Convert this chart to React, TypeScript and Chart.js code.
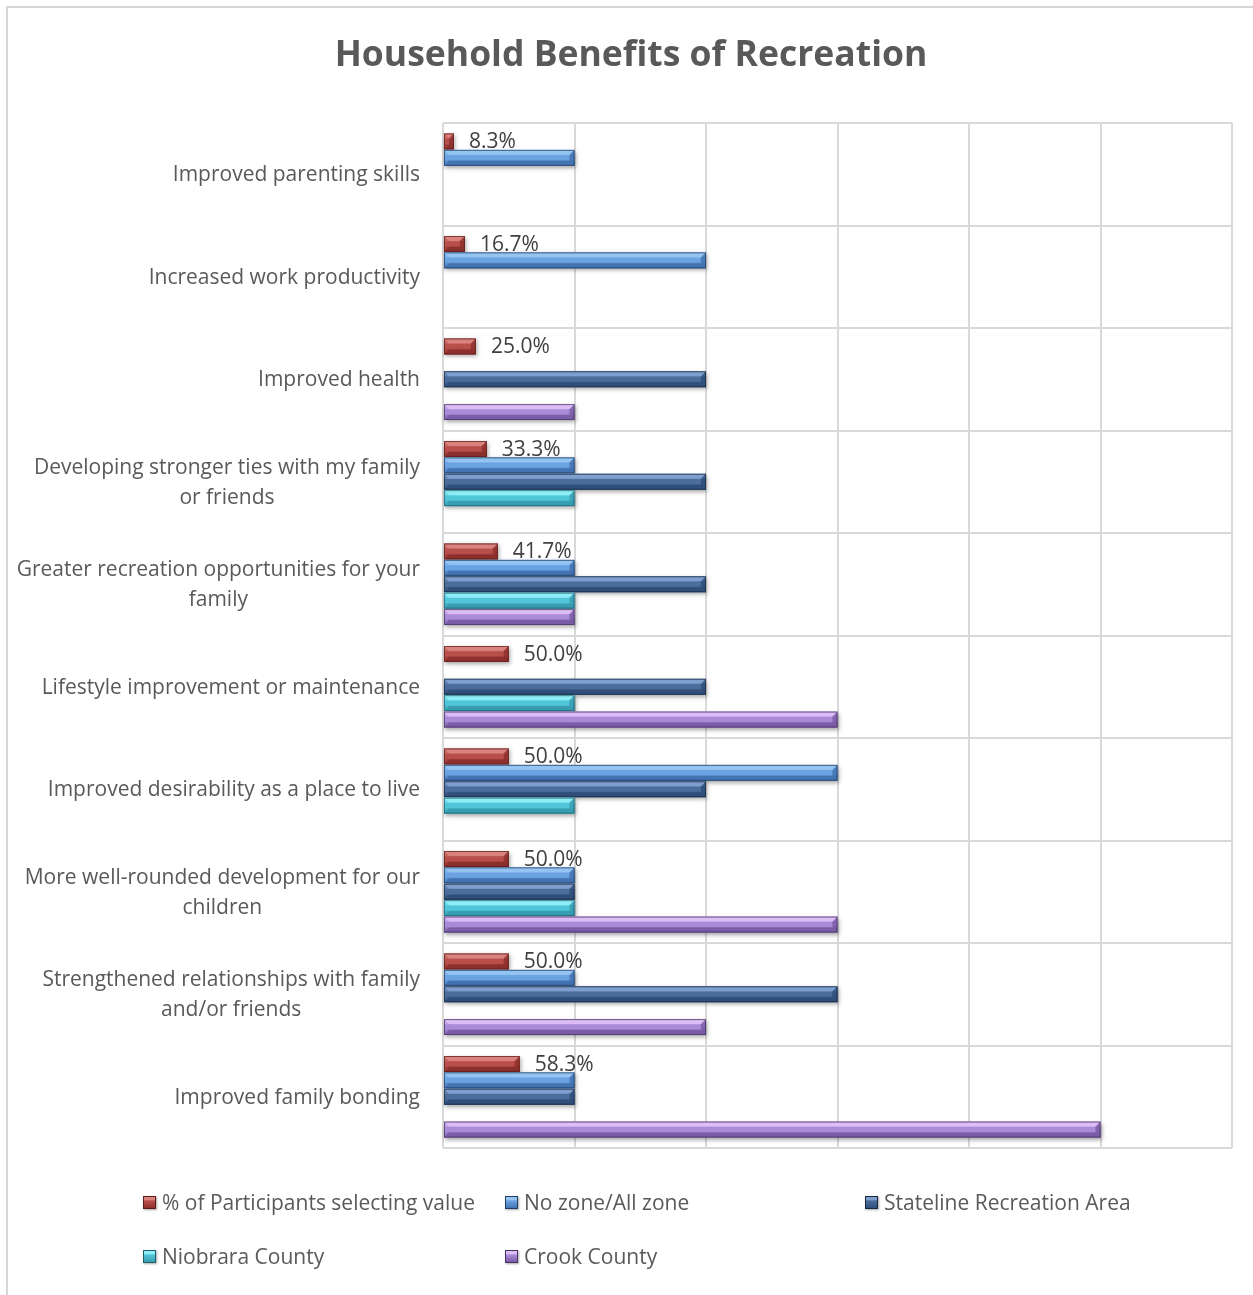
import React, { useEffect, useRef } from "react";
import { Chart, registerables } from "chart.js";

Chart.register(...registerables);

const chartTitle = "Household Benefits of Recreation";
const categories: string[][] = [
  ["Improved parenting skills"],
  ["Increased work productivity"],
  ["Improved health"],
  ["Developing stronger ties with my family", "or friends"],
  ["Greater recreation opportunities for your", "family"],
  ["Lifestyle improvement or maintenance"],
  ["Improved desirability as a place to live"],
  ["More well-rounded development for our", "children"],
  ["Strengthened relationships with family", "and/or friends"],
  ["Improved family bonding"],
];
const seriesNames = [
  "% of Participants selecting value",
  "No zone/All zone",
  "Stateline Recreation Area",
  "Niobrara County",
  "Crook County",
];
const pctSelecting = [0.083, 0.167, 0.25, 0.333, 0.417, 0.5, 0.5, 0.5, 0.5, 0.583];
const noZone = [1, 2, null, 1, 1, null, 3, 1, 1, 1];
const stateline = [null, null, 2, 2, 2, 2, 2, 1, 3, 1];
const niobrara = [null, null, null, 1, 1, 1, 1, 1, null, null];
const crook = [null, null, 1, null, 1, 3, null, 3, 2, 5];
const xMin = 0;
const xMax = 6;

type Pal = { light: string; mid: string; dark: string; edge: string };
const palettes: Pal[] = [
  { light: "#d9827e", mid: "#b94f4b", dark: "#8d302d", edge: "#5e1c1a" },
  { light: "#93c4f2", mid: "#6aa2e2", dark: "#4373b2", edge: "#213c62" },
  { light: "#7e9ecd", mid: "#4b6d9c", dark: "#2f4f7a", edge: "#17283f" },
  { light: "#8eeef8", mid: "#52c6d9", dark: "#379db1", edge: "#1d5f6c" },
  { light: "#dcbdf6", mid: "#a98bd8", dark: "#7b5ca7", edge: "#45325f" },
];

const FONT = '"Open Sans", "DejaVu Sans", sans-serif';
const TEXT_COLOR = "#595959";
// canvas placed at page (8,8), inside a 2px frame starting at page (6,6)
const CW = 1245;
const CH = 1287;

function drawBar(ctx: CanvasRenderingContext2D, x0: number, x1: number, yc: number, h: number, p: Pal) {
  const top = yc - h / 2;
  const bot = yc + h / 2;
  const w = x1 - x0;
  if (w <= 0) return;
  const b = Math.min(h * 0.32, w / 2);
  ctx.save();
  ctx.shadowColor = "rgba(0,0,0,0.35)";
  ctx.shadowBlur = 4;
  ctx.shadowOffsetX = 1;
  ctx.shadowOffsetY = 2;
  ctx.fillStyle = p.dark;
  ctx.fillRect(x0, top, w, h);
  ctx.restore();
  const g = ctx.createLinearGradient(0, top, 0, bot);
  g.addColorStop(0, p.light);
  g.addColorStop(0.28, p.light);
  g.addColorStop(0.36, p.mid);
  g.addColorStop(0.62, p.mid);
  g.addColorStop(0.72, p.dark);
  g.addColorStop(1, p.dark);
  ctx.fillStyle = g;
  ctx.fillRect(x0, top, w, h);
  ctx.fillStyle = p.dark;
  ctx.globalAlpha = 0.85;
  ctx.beginPath();
  ctx.moveTo(x1, top);
  ctx.lineTo(x1, bot);
  ctx.lineTo(x1 - b, bot - b);
  ctx.lineTo(x1 - b, top + b);
  ctx.closePath();
  ctx.fill();
  ctx.globalAlpha = 0.5;
  ctx.fillStyle = p.mid;
  ctx.beginPath();
  ctx.moveTo(x0, top);
  ctx.lineTo(x0, bot);
  ctx.lineTo(x0 + b, bot - b);
  ctx.lineTo(x0 + b, top + b);
  ctx.closePath();
  ctx.fill();
  ctx.globalAlpha = 0.7;
  ctx.strokeStyle = p.edge;
  ctx.lineWidth = 1;
  ctx.strokeRect(x0 + 0.5, top + 0.5, w - 1, h - 1);
  ctx.globalAlpha = 1;
}

const customDraw = {
  id: "customDraw",
  afterDatasetsDraw(chart: any) {
    const ctx: CanvasRenderingContext2D = chart.ctx;
    ctx.save();
    chart.data.datasets.forEach((ds: any, di: number) => {
      const meta = chart.getDatasetMeta(di);
      meta.data.forEach((el: any, i: number) => {
        const v = ds.data[i];
        if (v === null || v === undefined) return;
        const { x, y, base, height } = el.getProps(["x", "y", "base", "height"], true);
        drawBar(ctx, Math.min(x, base), Math.max(x, base), y, height, palettes[di]);
      });
      if (di === 0) {
        ctx.fillStyle = "#404040";
        ctx.font = `21px ${FONT}`;
        ctx.textAlign = "left";
        ctx.textBaseline = "middle";
        meta.data.forEach((el: any, i: number) => {
          const v = ds.data[i];
          if (v === null || v === undefined) return;
          const { x, y } = el.getProps(["x", "y"], true);
          ctx.fillText((v * 100).toFixed(1) + "%", x + 15, y + 1);
        });
      }
    });
    ctx.restore();
  },
  afterDraw(chart: any) {
    const ctx: CanvasRenderingContext2D = chart.ctx;
    const yScale = chart.scales.y;
    const area = chart.chartArea;
    ctx.save();
    ctx.fillStyle = TEXT_COLOR;
    ctx.font = `bold 35.5px ${FONT}`;
    ctx.textAlign = "center";
    ctx.textBaseline = "middle";
    ctx.fillText(chartTitle, 631 - 8, 48);
    ctx.font = `21px ${FONT}`;
    const right = area.left - 23;
    categories.forEach((lines, i) => {
      const yc = yScale.getPixelForTick(i) + 1;
      const wMax = Math.max(...lines.map((l) => ctx.measureText(l).width));
      const cx = right - wMax / 2;
      const lh = 30;
      const y0 = yc - ((lines.length - 1) * lh) / 2;
      lines.forEach((l, k) => ctx.fillText(l, cx, y0 + k * lh));
    });
    ctx.restore();
  },
};

function LegendMarker({ p }: { p: Pal }) {
  return (
    <span
      style={{
        display: "inline-block",
        width: 11,
        height: 11,
        border: `1px solid ${p.edge}`,
        background: `linear-gradient(180deg, ${p.light} 0%, ${p.light} 25%, ${p.mid} 35%, ${p.dark} 100%)`,
        boxShadow: "1px 1px 2px rgba(0,0,0,0.35)",
        marginRight: 6,
      }}
    />
  );
}

const legendPos = [
  { left: 135, top: 1194 },
  { left: 497, top: 1194 },
  { left: 857, top: 1194 },
  { left: 135, top: 1248 },
  { left: 497, top: 1248 },
];

export default function App() {
  const ref = useRef<HTMLCanvasElement | null>(null);
  useEffect(() => {
    if (!ref.current) return;
    const seriesData = [pctSelecting, noZone, stateline, niobrara, crook];
    const chart = new Chart(ref.current, {
      type: "bar",
      data: {
        labels: categories.map((c) => c.join(" ")),
        datasets: seriesNames.map((name, i) => ({
          label: name,
          data: seriesData[i] as any,
          backgroundColor: "rgba(0,0,0,0)",
          borderWidth: 0,
          categoryPercentage: 0.8,
          barPercentage: 0.97,
        })),
      },
      options: {
        indexAxis: "y",
        responsive: false,
        animation: false,
        layout: { padding: { left: 435, right: 21, top: 115, bottom: 147 } },
        plugins: {
          legend: { display: false },
          title: { display: false },
          tooltip: { enabled: false },
        },
        scales: {
          x: {
            min: xMin,
            max: xMax,
            ticks: { display: false, stepSize: 1 },
            grid: { color: "#d9d9d9", lineWidth: 2, drawTicks: false },
            border: { display: false },
            afterFit: (s: any) => {
              s.height = 0;
            },
          },
          y: {
            ticks: { display: false },
            grid: { color: "#d9d9d9", lineWidth: 2, drawTicks: false, offset: true },
            border: { display: false },
            afterFit: (s: any) => {
              s.width = 0;
            },
          },
        },
      },
      plugins: [customDraw],
    });
    return () => chart.destroy();
  }, []);

  return (
    <div
      style={{
        position: "fixed",
        left: 6,
        top: 6,
        width: CW,
        height: CH,
        borderTop: "2px solid #d6d6d6",
        borderLeft: "2px solid #d6d6d6",
        background: "#ffffff",
        overflow: "hidden",
      }}
    >
      <canvas ref={ref} width={CW} height={CH} style={{ display: "block", width: CW, height: CH }} />
      {seriesNames.map((name, i) => (
        <div
          key={name}
          style={{
            position: "absolute",
            left: legendPos[i].left,
            top: legendPos[i].top,
            transform: "translateY(-50%)",
            display: "flex",
            alignItems: "center",
            font: `21px ${FONT}`,
            color: TEXT_COLOR,
            whiteSpace: "nowrap",
          }}
        >
          <LegendMarker p={palettes[i]} />
          <span>{name}</span>
        </div>
      ))}
    </div>
  );
}
